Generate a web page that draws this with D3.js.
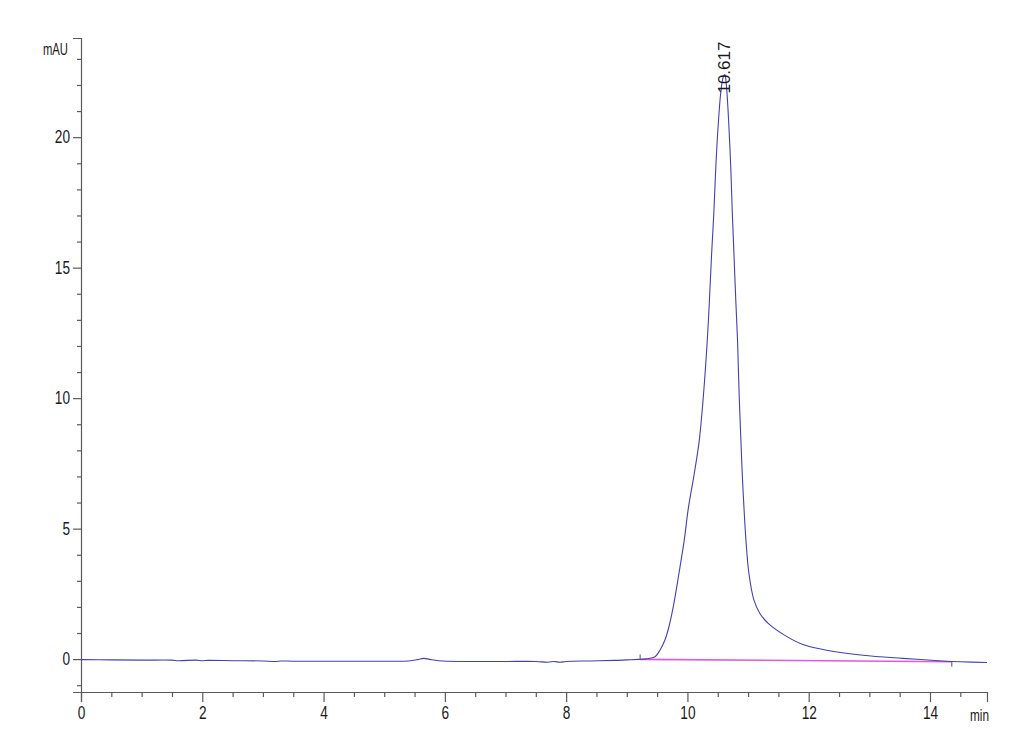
<!DOCTYPE html>
<html>
<head>
<meta charset="utf-8">
<script src="https://cdn.jsdelivr.net/npm/d3@7"></script>
<style>
  html, body { margin: 0; padding: 0; background: #fff; }
  svg { display: block; }
</style>
</head>
<body>
<svg id="chart" width="1030" height="755"></svg>
<script>
// ---- data ----
const timeMin = [
  0, 0.5, 1.0, 1.5, 1.6, 1.9, 2.0, 2.1, 2.5, 3.0, 3.2, 3.3, 3.5, 4.0, 4.5, 5.0, 5.4, 5.55, 5.65, 5.75, 5.9,
  6.3, 7.0, 7.5, 7.7, 7.8, 7.9, 8.0, 8.4, 8.8, 9.0, 9.2, 9.3, 9.38, 9.464, 9.547, 9.629, 9.695, 9.766, 9.86,
  9.947, 10.013, 10.112, 10.195, 10.261, 10.327, 10.36, 10.399, 10.437, 10.465, 10.5, 10.552, 10.59, 10.617,
  10.64, 10.68, 10.717, 10.739, 10.767, 10.8, 10.828, 10.852, 10.882, 10.904, 10.932, 10.965, 11.014, 11.097,
  11.195, 11.332, 11.6, 11.904, 12.295, 12.894, 13.553, 14.213, 14.5, 14.94
];
const absorbance = [
  -0.02, -0.03, -0.04, -0.04, -0.06, -0.04, -0.06, -0.05, -0.06, -0.07, -0.09, -0.07, -0.08, -0.08, -0.08, -0.08, -0.07, -0.02, 0.03, -0.01, -0.06,
  -0.09, -0.09, -0.09, -0.12, -0.09, -0.12, -0.09, -0.07, -0.05, -0.03, -0.01, 0.0, 0.03, 0.09, 0.34, 0.73, 1.24, 2.0, 3.28,
  4.55, 5.75, 7.1, 8.37, 10.02, 12.2, 13.61, 15.53, 17.17, 18.7, 20.2, 21.76, 22.3, 22.4,
  22.05, 20.6, 18.7, 17.17, 15.53, 13.61, 12.1, 10.2, 8.37, 7.1, 5.82, 4.55, 3.28, 2.26,
  1.75, 1.37, 0.92, 0.56, 0.34, 0.15, 0.03, -0.07, -0.1, -0.13
];
// integration baseline of the peak
const baselineTime = [9.22, 14.36];
const baselineValue = [-0.01, -0.10];
const peakLabels = [{ t: 10.617, v: 22.4, text: "10.617" }];

const xMajorTicks = [0, 2, 4, 6, 8, 10, 12, 14];
const yMajorTicks = [0, 5, 10, 15, 20];
const xMinorStep = 0.5;
const yMinorStep = 1;

// ---- layout ----
const svg = d3.select("#chart");
const x = d3.scaleLinear().domain([0, 14.94]).range([81, 987]);
const y = d3.scaleLinear().domain([-1.26, 23.8]).range([692, 38]);
const axisColor = "#5a5a5a";
const FONT = "Liberation Sans, Arial, sans-serif";

function condense(sel, f) {
  sel.each(function () {
    const len = this.getComputedTextLength();
    d3.select(this).attr("textLength", len * f).attr("lengthAdjust", "spacingAndGlyphs");
  });
}

const xMinor = d3.range(0, 14.94, xMinorStep).filter(t => !xMajorTicks.includes(t));
const yMinor = d3.range(-1, 23.8, yMinorStep).filter(v => !yMajorTicks.includes(v));

// X axis
const gx = svg.append("g").attr("transform", `translate(0,${y.range()[0]})`);
gx.call(d3.axisBottom(x).tickValues(xMajorTicks).tickSize(10).tickPadding(5).tickFormat(d3.format("d")));
const gxm = gx.append("g").call(d3.axisBottom(x).tickValues(xMinor).tickSize(5).tickFormat(""));
// Y axis
const gy = svg.append("g").attr("transform", `translate(${x.range()[0]},0)`);
gy.call(d3.axisLeft(y).tickValues(yMajorTicks).tickSize(8).tickPadding(3).tickFormat(d3.format("d")));
const gym = gy.append("g").call(d3.axisLeft(y).tickValues(yMinor).tickSize(4).tickFormat(""));
gxm.select(".domain").remove();
gym.select(".domain").remove();

svg.selectAll(".domain").attr("stroke", axisColor).attr("stroke-width", 1.2);
svg.selectAll(".tick line").attr("stroke", axisColor).attr("stroke-width", 1.2);
svg.selectAll(".tick text").attr("font-family", FONT).attr("font-size", 17.5).attr("fill", "#1a1a1a");
condense(svg.selectAll(".tick text"), 0.78);

// axis unit labels
const mau = svg.append("text").attr("x", 43).attr("y", 55)
  .attr("font-family", FONT).attr("font-size", 17).attr("fill", "#1a1a1a").text("mAU");
mau.attr("textLength", 25).attr("lengthAdjust", "spacingAndGlyphs");
const minL = svg.append("text").attr("x", 970).attr("y", 721)
  .attr("font-family", FONT).attr("font-size", 17).attr("fill", "#1a1a1a").text("min");
minL.attr("textLength", 19).attr("lengthAdjust", "spacingAndGlyphs");

// ---- signal ----
const pts = timeMin.map((t, i) => [t, absorbance[i]]);
const line = d3.line().x(d => x(d[0])).y(d => y(d[1])).curve(d3.curveCatmullRom.alpha(0.5));

// integration baseline
const bpts = baselineTime.map((t, i) => [t, baselineValue[i]]);
svg.append("path").attr("d", d3.line().x(d => x(d[0])).y(d => y(d[1]))(bpts))
  .attr("fill", "none").attr("stroke", "#e058e0").attr("stroke-width", 1.6);

svg.append("path").attr("d", line(pts))
  .attr("fill", "none").attr("stroke", "#4141b4").attr("stroke-width", 1.1);

// baseline start/end ticks
svg.append("line").attr("x1", x(baselineTime[0])).attr("x2", x(baselineTime[0]))
  .attr("y1", y(baselineValue[0])).attr("y2", y(baselineValue[0]) - 5).attr("stroke", "#555").attr("stroke-width", 1);
svg.append("line").attr("x1", x(baselineTime[1])).attr("x2", x(baselineTime[1]))
  .attr("y1", y(baselineValue[1])).attr("y2", y(baselineValue[1]) + 5).attr("stroke", "#555").attr("stroke-width", 1);

// peak label
peakLabels.forEach(p => {
  svg.append("text")
    .attr("transform", `translate(${x(p.t) + 5},${y(p.v) + 19}) rotate(-90)`)
    .attr("font-family", FONT).attr("font-size", 16).attr("fill", "#1a1a1a")
    .attr("textLength", 52).attr("lengthAdjust", "spacingAndGlyphs")
    .text(p.text);
});
</script>
</body>
</html>
